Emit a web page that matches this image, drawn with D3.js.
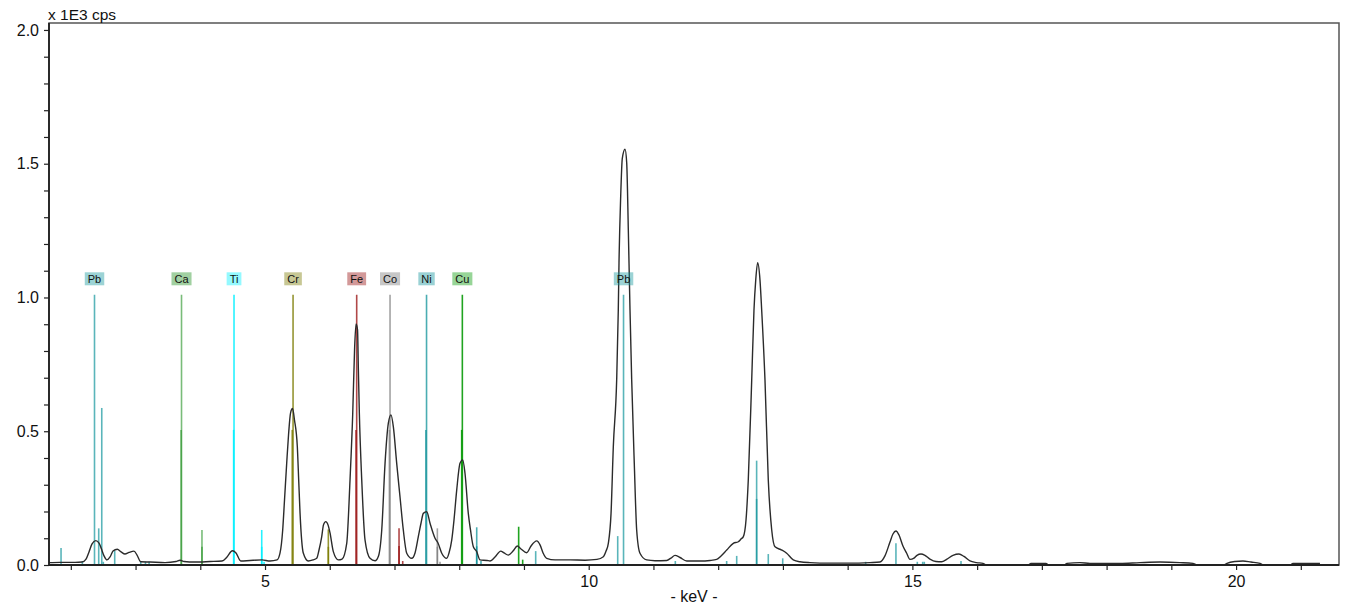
<!DOCTYPE html>
<html>
<head>
<meta charset="utf-8">
<script src="https://cdn.jsdelivr.net/npm/d3@7"></script>
<style>
  html, body { margin: 0; padding: 0; background: #fff; }
  svg { display: block; font-family: "Liberation Sans", Arial, Helvetica, sans-serif; }
</style>
</head>
<body>
<svg id="chart" width="1350" height="608"></svg>
<script>
// ---------------- DATA ----------------
// Spectrum: energy (keV) and intensity (x 1E3 cps)
const spectrumKeV = [1.663,1.833,2.065,2.173,2.235,2.281,2.328,2.385,2.436,2.467,2.513,2.559,2.606,2.652,2.718,2.776,2.837,2.899,2.976,3.023,3.080,3.224,3.455,3.625,3.687,3.749,3.919,4.151,4.336,4.413,4.495,4.552,4.625,4.768,4.954,5.077,5.186,5.232,5.273,5.301,5.335,5.363,5.394,5.425,5.455,5.499,5.520,5.541,5.591,5.669,5.741,5.798,5.834,5.876,5.903,5.938,5.973,6.004,6.055,6.133,6.190,6.262,6.313,6.355,6.383,6.406,6.429,6.442,6.457,6.494,6.545,6.622,6.699,6.753,6.803,6.854,6.905,6.946,6.982,7.034,7.085,7.136,7.189,7.266,7.317,7.368,7.410,7.445,7.498,7.549,7.626,7.672,7.730,7.807,7.842,7.884,7.919,7.961,8.012,8.054,8.089,8.140,8.174,8.218,8.270,8.321,8.429,8.476,8.553,8.641,8.692,8.758,8.831,8.897,8.954,9.042,9.109,9.197,9.248,9.295,9.351,9.480,9.712,9.943,10.128,10.226,10.268,10.303,10.345,10.380,10.432,10.457,10.468,10.494,10.519,10.561,10.587,10.612,10.638,10.664,10.704,10.741,10.792,10.896,11.024,11.205,11.271,11.333,11.410,11.514,11.719,11.874,11.977,12.044,12.132,12.234,12.311,12.353,12.389,12.430,12.465,12.518,12.553,12.580,12.610,12.646,12.672,12.723,12.774,12.827,12.878,12.981,13.058,13.160,13.264,13.418,13.727,14.036,14.345,14.499,14.576,14.654,14.700,14.746,14.793,14.854,14.912,14.963,15.025,15.071,15.133,15.194,15.271,15.364,15.452,15.534,15.627,15.720,15.797,15.890,15.993,16.090,16.137,16.785,16.832,17.063,17.110,17.341,17.388,17.589,17.743,18.207,18.516,18.825,19.134,19.334,19.396,19.813,19.860,19.983,20.107,20.230,20.370,20.416,20.833,20.879,21.296];
const spectrumCps = [0.009,0.010,0.010,0.011,0.022,0.049,0.079,0.091,0.082,0.064,0.034,0.019,0.030,0.052,0.059,0.049,0.041,0.047,0.052,0.037,0.012,0.011,0.009,0.013,0.018,0.013,0.011,0.013,0.015,0.030,0.053,0.045,0.015,0.017,0.019,0.015,0.019,0.045,0.131,0.243,0.381,0.486,0.568,0.585,0.542,0.442,0.318,0.194,0.045,0.015,0.019,0.025,0.056,0.106,0.150,0.162,0.150,0.120,0.050,0.019,0.022,0.081,0.318,0.568,0.804,0.901,0.879,0.729,0.568,0.318,0.093,0.025,0.016,0.034,0.131,0.380,0.530,0.561,0.517,0.380,0.255,0.131,0.044,0.025,0.045,0.106,0.157,0.193,0.199,0.156,0.100,0.082,0.044,0.025,0.045,0.093,0.168,0.280,0.380,0.393,0.343,0.193,0.131,0.068,0.050,0.019,0.017,0.015,0.030,0.052,0.045,0.037,0.052,0.071,0.060,0.046,0.071,0.090,0.075,0.045,0.025,0.019,0.019,0.018,0.021,0.031,0.052,0.081,0.193,0.442,0.692,0.953,1.129,1.377,1.520,1.554,1.503,1.252,0.953,0.692,0.380,0.131,0.044,0.019,0.016,0.017,0.026,0.036,0.028,0.015,0.015,0.017,0.021,0.034,0.056,0.081,0.087,0.097,0.106,0.168,0.318,0.692,0.953,1.065,1.130,1.065,0.953,0.692,0.318,0.131,0.068,0.056,0.044,0.019,0.012,0.009,0.007,0.007,0.009,0.011,0.034,0.086,0.116,0.127,0.112,0.071,0.044,0.021,0.026,0.036,0.041,0.036,0.022,0.013,0.012,0.022,0.036,0.041,0.032,0.015,0.009,0.006,0.000,0.000,0.006,0.006,0.000,0.000,0.006,0.009,0.006,0.006,0.009,0.011,0.009,0.006,0.000,0.000,0.006,0.013,0.015,0.011,0.006,0.000,0.000,0.006,0.006];

// Element line markers
const markerElement = ["Pb","Pb","Pb","Pb","Pb","Pb","Pb","Pb","Pb","Pb",
  "Ca","Ca","Ca","Ca",
  "Ti","Ti","Ti","Ti","Ti",
  "Cr","Cr","Cr","Cr",
  "Fe","Fe","Fe","Fe","Fe",
  "Co","Co","Co","Co","Co",
  "Ni","Ni","Ni","Ni","Ni",
  "Cu","Cu","Cu","Cu",
  "Pb","Pb","Pb","Pb","Pb","Pb","Pb","Pb","Pb","Pb","Pb","Pb","Pb","Pb","Pb","Pb"];
const markerKeV = [1.849,2.178,2.366,2.431,2.478,2.502,2.678,3.080,3.153,3.209,
  3.710,3.703,4.026,4.026,
  4.521,4.515,4.949,4.949,4.985,
  5.433,5.420,5.978,5.978,
  6.416,6.405,7.070,7.070,7.127,
  6.931,6.921,7.662,7.662,7.703,
  7.495,7.485,8.270,8.270,8.336,
  8.048,8.038,8.918,8.980,
  9.181,10.448,10.538,11.338,12.131,12.286,12.594,12.594,12.774,12.997,14.278,14.746,15.076,15.159,15.184,15.751];
const markerHeight = [0.064,0.015,1.010,0.137,0.587,0.012,0.053,0.015,0.012,0.012,
  1.010,0.505,0.131,0.068,
  1.010,0.505,0.131,0.068,0.012,
  1.010,0.505,0.133,0.068,
  1.010,0.505,0.137,0.071,0.015,
  1.010,0.505,0.137,0.068,0.012,
  1.010,0.505,0.141,0.070,0.015,
  1.010,0.505,0.143,0.020,
  0.052,0.108,1.010,0.015,0.015,0.034,0.390,0.247,0.041,0.025,0.012,0.081,0.012,0.012,0.012,0.015];

// Element labels
const labelElement = ["Pb","Ca","Ti","Cr","Fe","Co","Ni","Cu","Pb"];
const labelKeV = [2.366,3.710,4.521,5.433,6.416,6.931,7.495,8.048,10.538];
const labelLevel = 1.01;

// Axes
const xTickValues = [2,3,4,5,6,7,8,9,10,11,12,13,14,15,16,17,18,19,20,21];
const xTickLabels = ["","","","5","","","","","10","","","","","15","","","","","20",""];
const yTickValues = [0,0.1,0.2,0.3,0.4,0.5,0.6,0.7,0.8,0.9,1.0,1.1,1.2,1.3,1.4,1.5,1.6,1.7,1.8,1.9,2.0];
const yTickLabels = ["0.0","","","","","0.5","","","","","1.0","","","","","1.5","","","","","2.0"];
const yUnitLabel = "x 1E3 cps";
const xUnitLabel = "- keV -";

// ---------------- STYLE ----------------
const elementStyle = {
  Pb: { color: "#14969c", opacity: 0.7 },
  Ca: { color: "#1f8f1f", opacity: 0.6 },
  Ti: { color: "#00f0ff", opacity: 0.85 },
  Cr: { color: "#7a7a00", opacity: 0.8 },
  Fe: { color: "#950b0b", opacity: 0.75 },
  Co: { color: "#7a7a7a", opacity: 0.7 },
  Ni: { color: "#0f9298", opacity: 0.75 },
  Cu: { color: "#089a08", opacity: 0.9 }
};

// ---------------- DRAW ----------------
(function () {
const svg = d3.select("#chart");
const mLeft = 49, mRight = 1339, mTop = 23, mBottom = 565;
const x = d3.scaleLinear().domain([1.663, 21.59]).range([mLeft, mRight]);
const y = d3.scaleLinear().domain([0, 2.026]).range([mBottom, mTop]);

// frame (top / right)
svg.append("rect")
  .attr("x", mLeft).attr("y", mTop)
  .attr("width", mRight - mLeft).attr("height", mBottom - mTop)
  .attr("fill", "none").attr("stroke", "#555").attr("stroke-width", 1.5);

// markers
const markers = markerKeV.map((k, i) => ({ k, h: markerHeight[i], el: markerElement[i] }));
svg.append("g").selectAll("line").data(markers).join("line")
  .attr("x1", d => x(d.k)).attr("x2", d => x(d.k))
  .attr("y1", y(0)).attr("y2", d => y(d.h))
  .attr("stroke", d => elementStyle[d.el].color)
  .attr("stroke-opacity", d => elementStyle[d.el].opacity)
  .attr("stroke-width", 1.6);

// spectrum
const spectrum = spectrumKeV.map((k, i) => [k, spectrumCps[i]]);
svg.append("path")
  .datum(spectrum)
  .attr("fill", "none")
  .attr("stroke", "#2b2b2b")
  .attr("stroke-width", 1.4)
  .attr("stroke-linejoin", "round")
  .attr("d", d3.line().x(d => x(d[0])).y(d => y(d[1])).curve(d3.curveMonotoneX));

// labels
const lab = svg.append("g");
labelElement.forEach((el, i) => {
  const cx = x(labelKeV[i]);
  const cy = y(labelLevel) - 16;
  const g = lab.append("g");
  const rect = g.append("rect");
  const t = g.append("text")
    .attr("x", cx).attr("y", cy + 3.8)
    .attr("text-anchor", "middle")
    .attr("font-size", 11)
    .attr("fill", "#111")
    .text(el);
  const w = t.node().getComputedTextLength() + 6;
  rect.attr("x", cx - w / 2).attr("y", cy - 6.5).attr("width", w).attr("height", 13)
    .attr("fill", elementStyle[el].color).attr("fill-opacity", 0.42);
});

// axes
const xAxis = d3.axisBottom(x).tickValues(xTickValues)
  .tickFormat((d, i) => xTickLabels[i]).tickSize(5).tickSizeOuter(0);
const gx = svg.append("g").attr("transform", `translate(0,${mBottom})`).call(xAxis);
gx.select(".domain").remove();
gx.selectAll(".tick line").attr("stroke", "#222").attr("stroke-width", 1.2);
gx.selectAll(".tick text").attr("font-size", 16).attr("fill", "#111").attr("dy", "0.9em")
  .attr("font-family", "'Liberation Sans', Arial, sans-serif");

const yAxis = d3.axisLeft(y).tickValues(yTickValues)
  .tickFormat((d, i) => yTickLabels[i]).tickSize(5).tickSizeOuter(0);
const gy = svg.append("g").attr("transform", `translate(${mLeft},0)`).call(yAxis);
gy.select(".domain").remove();
gy.selectAll(".tick line").attr("stroke", "#222").attr("stroke-width", 1.2);
gy.selectAll(".tick text").attr("font-size", 16).attr("fill", "#111").attr("x", -10)
  .attr("font-family", "'Liberation Sans', Arial, sans-serif");

// axis lines (left and bottom, darker)
svg.append("line").attr("x1", mLeft).attr("x2", mLeft).attr("y1", mTop).attr("y2", mBottom)
  .attr("stroke", "#222").attr("stroke-width", 1.8);
svg.append("line").attr("x1", mLeft).attr("x2", mRight).attr("y1", mBottom).attr("y2", mBottom)
  .attr("stroke", "#222").attr("stroke-width", 1.8);

// unit labels
svg.append("text").attr("x", mLeft - 1).attr("y", 20)
  .attr("font-size", 15.5).attr("fill", "#111").text(yUnitLabel);
svg.append("text").attr("x", (mLeft + mRight) / 2).attr("y", 602)
  .attr("text-anchor", "middle").attr("font-size", 16).attr("fill", "#111").text(xUnitLabel);
})();
</script>
</body>
</html>
